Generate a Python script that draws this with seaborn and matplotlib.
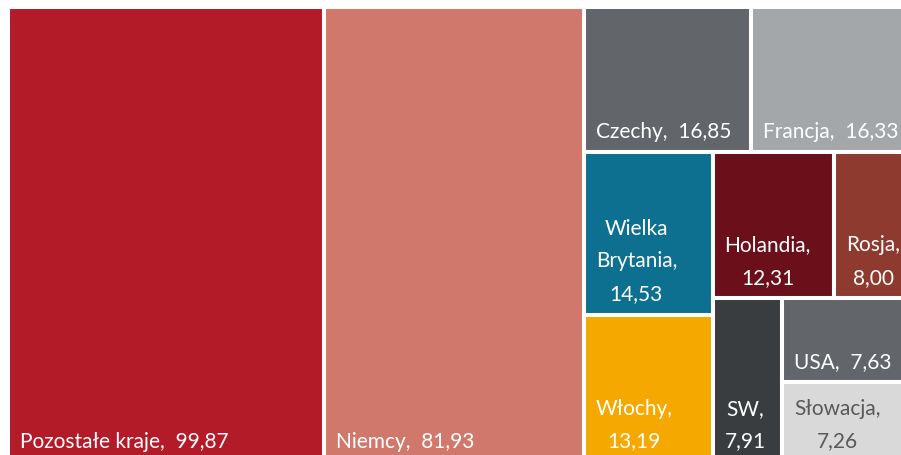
import matplotlib
matplotlib.use("Agg")
import matplotlib.pyplot as plt
from matplotlib.patches import Rectangle
import seaborn as sns

# Data
countries = ["Pozostałe kraje", "Niemcy", "Czechy", "Francja", "Wielka Brytania",
             "Włochy", "Holandia", "Rosja", "SW", "USA", "Słowacja"]
values = [99.87, 81.93, 16.85, 16.33, 14.53, 13.19, 12.31, 8.00, 7.91, 7.63, 7.26]
colors = ["#B31B29", "#D1786C", "#62666A", "#A4A7AA", "#0E7090",
          "#F5A800", "#6B0F1A", "#8E3A2F", "#3A3D3F", "#62666A", "#D9D9D9"]
text_colors = ["white"] * 10 + ["#595959"]

# nesting of the treemap (h = side by side, v = stacked), leaves are indices
layout = ("h", [0, 1, ("v", [("h", [2, 3]),
                             ("h", [("v", [4, 5]),
                                    ("v", [("h", [6, 7]),
                                           ("h", [8, ("v", [9, 10])])])])])])


def weight(node):
    if isinstance(node, int):
        return values[node]
    return sum(weight(c) for c in node[1])


def place(node, x, y, w, h, out):
    if isinstance(node, int):
        out[node] = (x, y, w, h)
        return
    direction, children = node
    total = weight(node)
    for c in children:
        frac = weight(c) / total
        if direction == "h":
            place(c, x, y, w * frac, h, out)
            x += w * frac
        else:
            place(c, x, y, w, h * frac, out)
            y += h * frac


rects = {}
place(layout, 0, 0, 1, 1, rects)

sns.set_theme(style="white")
plt.rcParams['font.family'] = ['Lato', 'DejaVu Sans']

fig = plt.figure(figsize=(9.01, 4.55), dpi=100)
ax_w_px, ax_h_px = 905, 455
ax = fig.add_axes([8 / 901, -7 / 455, ax_w_px / 901, ax_h_px / 455])
ax.set_xlim(0, 1)
ax.set_ylim(1, 0)
ax.axis("off")

renderer = fig.canvas.get_renderer()
pad_px = 12

for i, name in enumerate(countries):
    x, y, w, h = rects[i]
    ax.add_patch(Rectangle((x, y), w, h, facecolor=colors[i],
                           edgecolor="white", linewidth=2.9))
    val = f"{values[i]:.2f}".replace(".", ",")
    avail = w * ax_w_px - 2 * pad_px
    options = [f"{name},  {val}", f"{name},\n{val}",
               f"{name.replace(' ', chr(10))},\n{val}"]
    for label in options:
        t = ax.annotate(label, xy=(x, y + h), xycoords="data",
                        xytext=(pad_px * 0.72, 7.5), textcoords="offset points",
                        ha="left", va="bottom", multialignment="center",
                        fontsize=15, color=text_colors[i], linespacing=1.8)
        if t.get_window_extent(renderer).width <= avail or label == options[-1]:
            break
        t.remove()

fig.savefig("out.png", dpi=100)
